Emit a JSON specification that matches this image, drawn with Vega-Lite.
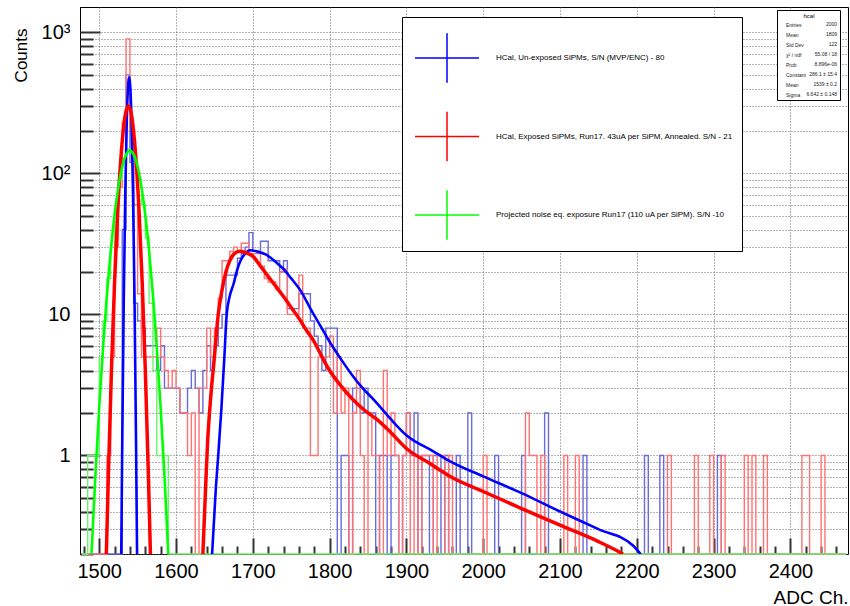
{
  "$schema": "https://vega.github.io/schema/vega-lite/v6.json",
  "width": 768,
  "height": 547,
  "autosize": {"type": "none"},
  "padding": {"left": 80, "top": 7, "right": 2, "bottom": 52},
  "background": "#ffffff",
  "config": {
    "font": "Liberation Sans",
    "view": {"stroke": "#000000", "strokeWidth": 1}
  },
  "resolve": {"axis": {"x": "independent", "y": "independent"}, "scale": {"color": "independent"}},
  "datasets": {
    "hist": [
      {"series":"B","adc":1477.5,"counts":0},{"series":"B","adc":1527.5,"counts":0},{"series":"B","adc":1532.5,"counts":40},{"series":"B","adc":1537.5,"counts":500},{"series":"B","adc":1542.5,"counts":120},{"series":"B","adc":1547.5,"counts":12},{"series":"B","adc":1552.5,"counts":9},{"series":"B","adc":1557.5,"counts":8},{"series":"B","adc":1562.5,"counts":6},{"series":"B","adc":1567.5,"counts":6},{"series":"B","adc":1572.5,"counts":6},{"series":"B","adc":1577.5,"counts":4},{"series":"B","adc":1582.5,"counts":6},{"series":"B","adc":1587.5,"counts":3},{"series":"B","adc":1592.5,"counts":3},{"series":"B","adc":1597.5,"counts":3},{"series":"B","adc":1602.5,"counts":3},{"series":"B","adc":1607.5,"counts":2},{"series":"B","adc":1612.5,"counts":2},{"series":"B","adc":1617.5,"counts":3},{"series":"B","adc":1622.5,"counts":4},{"series":"B","adc":1627.5,"counts":3},{"series":"B","adc":1632.5,"counts":2},{"series":"B","adc":1637.5,"counts":4},{"series":"B","adc":1642.5,"counts":6},{"series":"B","adc":1647.5,"counts":4},{"series":"B","adc":1652.5,"counts":6},{"series":"B","adc":1657.5,"counts":8},{"series":"B","adc":1662.5,"counts":10},{"series":"B","adc":1667.5,"counts":19},{"series":"B","adc":1672.5,"counts":19},{"series":"B","adc":1677.5,"counts":19},{"series":"B","adc":1682.5,"counts":25},{"series":"B","adc":1687.5,"counts":27},{"series":"B","adc":1692.5,"counts":30},{"series":"B","adc":1697.5,"counts":38},{"series":"B","adc":1702.5,"counts":28},{"series":"B","adc":1707.5,"counts":28},{"series":"B","adc":1712.5,"counts":33},{"series":"B","adc":1717.5,"counts":33},{"series":"B","adc":1722.5,"counts":24},{"series":"B","adc":1727.5,"counts":24},{"series":"B","adc":1732.5,"counts":24},{"series":"B","adc":1737.5,"counts":20},{"series":"B","adc":1742.5,"counts":24},{"series":"B","adc":1747.5,"counts":11},{"series":"B","adc":1752.5,"counts":11},{"series":"B","adc":1757.5,"counts":11},{"series":"B","adc":1762.5,"counts":14},{"series":"B","adc":1767.5,"counts":14},{"series":"B","adc":1772.5,"counts":14},{"series":"B","adc":1777.5,"counts":9},{"series":"B","adc":1782.5,"counts":7},{"series":"B","adc":1787.5,"counts":6},{"series":"B","adc":1792.5,"counts":4},{"series":"B","adc":1797.5,"counts":8},{"series":"B","adc":1802.5,"counts":8},{"series":"B","adc":1807.5,"counts":8},{"series":"B","adc":1812.5,"counts":0},{"series":"B","adc":1817.5,"counts":1},{"series":"B","adc":1822.5,"counts":1},{"series":"B","adc":1827.5,"counts":0},{"series":"B","adc":1832.5,"counts":3},{"series":"B","adc":1837.5,"counts":3},{"series":"B","adc":1842.5,"counts":2},{"series":"B","adc":1847.5,"counts":3},{"series":"B","adc":1852.5,"counts":2},{"series":"B","adc":1857.5,"counts":2},{"series":"B","adc":1862.5,"counts":0},{"series":"B","adc":1867.5,"counts":1},{"series":"B","adc":1872.5,"counts":1},{"series":"B","adc":1877.5,"counts":0},{"series":"B","adc":1882.5,"counts":1},{"series":"B","adc":1887.5,"counts":1},{"series":"B","adc":1892.5,"counts":0},{"series":"B","adc":1897.5,"counts":1},{"series":"B","adc":1902.5,"counts":2},{"series":"B","adc":1907.5,"counts":1},{"series":"B","adc":1912.5,"counts":2},{"series":"B","adc":1917.5,"counts":0},{"series":"B","adc":1922.5,"counts":1},{"series":"B","adc":1927.5,"counts":1},{"series":"B","adc":1932.5,"counts":0},{"series":"B","adc":1937.5,"counts":1},{"series":"B","adc":1942.5,"counts":1},{"series":"B","adc":1947.5,"counts":0},{"series":"B","adc":1952.5,"counts":1},{"series":"B","adc":1957.5,"counts":0},{"series":"B","adc":1962.5,"counts":0},{"series":"B","adc":1967.5,"counts":1},{"series":"B","adc":1972.5,"counts":0},{"series":"B","adc":1977.5,"counts":0},{"series":"B","adc":1982.5,"counts":2},{"series":"B","adc":1987.5,"counts":0},{"series":"B","adc":2012.5,"counts":0},{"series":"B","adc":2017.5,"counts":1},{"series":"B","adc":2022.5,"counts":0},{"series":"B","adc":2047.5,"counts":0},{"series":"B","adc":2052.5,"counts":1},{"series":"B","adc":2057.5,"counts":0},{"series":"B","adc":2077.5,"counts":0},{"series":"B","adc":2082.5,"counts":2},{"series":"B","adc":2087.5,"counts":0},{"series":"B","adc":2127.5,"counts":0},{"series":"B","adc":2132.5,"counts":1},{"series":"B","adc":2137.5,"counts":0},{"series":"B","adc":2207.5,"counts":0},{"series":"B","adc":2212.5,"counts":1},{"series":"B","adc":2217.5,"counts":0},{"series":"B","adc":2227.5,"counts":0},{"series":"B","adc":2232.5,"counts":1},{"series":"B","adc":2237.5,"counts":0},{"series":"B","adc":2302.5,"counts":0},{"series":"B","adc":2307.5,"counts":1},{"series":"B","adc":2312.5,"counts":0},{"series":"B","adc":2472.5,"counts":0},
      {"series":"R","adc":1477.5,"counts":0},{"series":"R","adc":1507.5,"counts":0},{"series":"R","adc":1512.5,"counts":1},{"series":"R","adc":1517.5,"counts":5},{"series":"R","adc":1522.5,"counts":30},{"series":"R","adc":1527.5,"counts":80},{"series":"R","adc":1532.5,"counts":230},{"series":"R","adc":1537.5,"counts":900},{"series":"R","adc":1542.5,"counts":200},{"series":"R","adc":1547.5,"counts":60},{"series":"R","adc":1552.5,"counts":14},{"series":"R","adc":1557.5,"counts":5},{"series":"R","adc":1562.5,"counts":5},{"series":"R","adc":1567.5,"counts":5},{"series":"R","adc":1572.5,"counts":5},{"series":"R","adc":1577.5,"counts":8},{"series":"R","adc":1582.5,"counts":5},{"series":"R","adc":1587.5,"counts":4},{"series":"R","adc":1592.5,"counts":3},{"series":"R","adc":1597.5,"counts":4},{"series":"R","adc":1602.5,"counts":3},{"series":"R","adc":1607.5,"counts":2},{"series":"R","adc":1612.5,"counts":2},{"series":"R","adc":1617.5,"counts":1},{"series":"R","adc":1622.5,"counts":2},{"series":"R","adc":1627.5,"counts":0},{"series":"R","adc":1632.5,"counts":3},{"series":"R","adc":1637.5,"counts":3},{"series":"R","adc":1642.5,"counts":8},{"series":"R","adc":1647.5,"counts":5},{"series":"R","adc":1652.5,"counts":8},{"series":"R","adc":1657.5,"counts":13},{"series":"R","adc":1662.5,"counts":24},{"series":"R","adc":1667.5,"counts":24},{"series":"R","adc":1672.5,"counts":28},{"series":"R","adc":1677.5,"counts":30},{"series":"R","adc":1682.5,"counts":28},{"series":"R","adc":1687.5,"counts":32},{"series":"R","adc":1692.5,"counts":32},{"series":"R","adc":1697.5,"counts":27},{"series":"R","adc":1702.5,"counts":27},{"series":"R","adc":1707.5,"counts":27},{"series":"R","adc":1712.5,"counts":22},{"series":"R","adc":1717.5,"counts":18},{"series":"R","adc":1722.5,"counts":17},{"series":"R","adc":1727.5,"counts":17},{"series":"R","adc":1732.5,"counts":15},{"series":"R","adc":1737.5,"counts":20},{"series":"R","adc":1742.5,"counts":21},{"series":"R","adc":1747.5,"counts":10},{"series":"R","adc":1752.5,"counts":10},{"series":"R","adc":1757.5,"counts":10},{"series":"R","adc":1762.5,"counts":19},{"series":"R","adc":1767.5,"counts":8},{"series":"R","adc":1772.5,"counts":8},{"series":"R","adc":1777.5,"counts":1},{"series":"R","adc":1782.5,"counts":1},{"series":"R","adc":1787.5,"counts":5},{"series":"R","adc":1792.5,"counts":5},{"series":"R","adc":1797.5,"counts":5},{"series":"R","adc":1802.5,"counts":7},{"series":"R","adc":1807.5,"counts":2},{"series":"R","adc":1812.5,"counts":5},{"series":"R","adc":1817.5,"counts":2},{"series":"R","adc":1822.5,"counts":3},{"series":"R","adc":1827.5,"counts":0},{"series":"R","adc":1832.5,"counts":2},{"series":"R","adc":1837.5,"counts":4},{"series":"R","adc":1842.5,"counts":1},{"series":"R","adc":1847.5,"counts":0},{"series":"R","adc":1852.5,"counts":2},{"series":"R","adc":1857.5,"counts":1},{"series":"R","adc":1862.5,"counts":1},{"series":"R","adc":1867.5,"counts":0},{"series":"R","adc":1872.5,"counts":4},{"series":"R","adc":1877.5,"counts":1},{"series":"R","adc":1882.5,"counts":2},{"series":"R","adc":1887.5,"counts":1},{"series":"R","adc":1892.5,"counts":0},{"series":"R","adc":1897.5,"counts":1},{"series":"R","adc":1902.5,"counts":2},{"series":"R","adc":1907.5,"counts":0},{"series":"R","adc":1912.5,"counts":1},{"series":"R","adc":1917.5,"counts":0},{"series":"R","adc":1922.5,"counts":1},{"series":"R","adc":1927.5,"counts":1},{"series":"R","adc":1932.5,"counts":1},{"series":"R","adc":1937.5,"counts":0},{"series":"R","adc":1942.5,"counts":1},{"series":"R","adc":1947.5,"counts":1},{"series":"R","adc":1952.5,"counts":0},{"series":"R","adc":1957.5,"counts":1},{"series":"R","adc":1962.5,"counts":0},{"series":"R","adc":1997.5,"counts":0},{"series":"R","adc":2002.5,"counts":1},{"series":"R","adc":2007.5,"counts":0},{"series":"R","adc":2052.5,"counts":0},{"series":"R","adc":2057.5,"counts":2},{"series":"R","adc":2062.5,"counts":1},{"series":"R","adc":2067.5,"counts":1},{"series":"R","adc":2072.5,"counts":0},{"series":"R","adc":2077.5,"counts":1},{"series":"R","adc":2082.5,"counts":0},{"series":"R","adc":2102.5,"counts":0},{"series":"R","adc":2107.5,"counts":1},{"series":"R","adc":2112.5,"counts":0},{"series":"R","adc":2117.5,"counts":0},{"series":"R","adc":2122.5,"counts":1},{"series":"R","adc":2127.5,"counts":0},{"series":"R","adc":2237.5,"counts":0},{"series":"R","adc":2242.5,"counts":1},{"series":"R","adc":2247.5,"counts":0},{"series":"R","adc":2272.5,"counts":0},{"series":"R","adc":2277.5,"counts":1},{"series":"R","adc":2282.5,"counts":0},{"series":"R","adc":2292.5,"counts":0},{"series":"R","adc":2297.5,"counts":1},{"series":"R","adc":2302.5,"counts":0},{"series":"R","adc":2307.5,"counts":0},{"series":"R","adc":2312.5,"counts":1},{"series":"R","adc":2317.5,"counts":0},{"series":"R","adc":2337.5,"counts":0},{"series":"R","adc":2342.5,"counts":1},{"series":"R","adc":2347.5,"counts":0},{"series":"R","adc":2352.5,"counts":1},{"series":"R","adc":2357.5,"counts":0},{"series":"R","adc":2362.5,"counts":0},{"series":"R","adc":2367.5,"counts":1},{"series":"R","adc":2372.5,"counts":0},{"series":"R","adc":2412.5,"counts":0},{"series":"R","adc":2417.5,"counts":1},{"series":"R","adc":2422.5,"counts":1},{"series":"R","adc":2427.5,"counts":0},{"series":"R","adc":2437.5,"counts":0},{"series":"R","adc":2442.5,"counts":1},{"series":"R","adc":2447.5,"counts":0},{"series":"R","adc":2472.5,"counts":0},
      {"series":"G","adc":1477.5,"counts":0},{"series":"G","adc":1482.5,"counts":0},{"series":"G","adc":1487.5,"counts":1},{"series":"G","adc":1492.5,"counts":1},{"series":"G","adc":1497.5,"counts":1},{"series":"G","adc":1502.5,"counts":5},{"series":"G","adc":1507.5,"counts":9},{"series":"G","adc":1512.5,"counts":18},{"series":"G","adc":1517.5,"counts":30},{"series":"G","adc":1522.5,"counts":55},{"series":"G","adc":1527.5,"counts":90},{"series":"G","adc":1532.5,"counts":120},{"series":"G","adc":1537.5,"counts":150},{"series":"G","adc":1542.5,"counts":140},{"series":"G","adc":1547.5,"counts":120},{"series":"G","adc":1552.5,"counts":90},{"series":"G","adc":1557.5,"counts":60},{"series":"G","adc":1562.5,"counts":35},{"series":"G","adc":1567.5,"counts":12},{"series":"G","adc":1572.5,"counts":4},{"series":"G","adc":1577.5,"counts":1},{"series":"G","adc":1582.5,"counts":1},{"series":"G","adc":1587.5,"counts":1},{"series":"G","adc":1592.5,"counts":0},{"series":"G","adc":2472.5,"counts":0}
    ],
    "fit": [
      {"series":"B","part":"peak","adc":1528.7,"counts":0.2},{"series":"B","part":"peak","adc":1530,"counts":1.2},{"series":"B","part":"peak","adc":1532,"counts":12.8},{"series":"B","part":"peak","adc":1534,"counts":75},{"series":"B","part":"peak","adc":1536,"counts":247},{"series":"B","part":"peak","adc":1538,"counts":446},{"series":"B","part":"peak","adc":1539,"counts":480},{"series":"B","part":"peak","adc":1540,"counts":446},{"series":"B","part":"peak","adc":1542,"counts":247},{"series":"B","part":"peak","adc":1544,"counts":75},{"series":"B","part":"peak","adc":1546,"counts":12.8},{"series":"B","part":"peak","adc":1548,"counts":1.2},{"series":"B","part":"peak","adc":1549.3,"counts":0.2},
      {"series":"B","part":"signal","adc":1647,"counts":0.2},{"series":"B","part":"signal","adc":1652,"counts":0.6},{"series":"B","part":"signal","adc":1655,"counts":1.0},{"series":"B","part":"signal","adc":1659,"counts":2.1},{"series":"B","part":"signal","adc":1663,"counts":5},{"series":"B","part":"signal","adc":1666,"counts":10},{"series":"B","part":"signal","adc":1670,"counts":13.5},{"series":"B","part":"signal","adc":1675,"counts":16.5},{"series":"B","part":"signal","adc":1680,"counts":21},{"series":"B","part":"signal","adc":1684,"counts":24},{"series":"B","part":"signal","adc":1690,"counts":27},{"series":"B","part":"signal","adc":1696,"counts":28.5},{"series":"B","part":"signal","adc":1705,"counts":28},{"series":"B","part":"signal","adc":1718,"counts":26.4},{"series":"B","part":"signal","adc":1730,"counts":23.5},{"series":"B","part":"signal","adc":1740,"counts":21},{"series":"B","part":"signal","adc":1750,"counts":18},{"series":"B","part":"signal","adc":1762,"counts":14.8},{"series":"B","part":"signal","adc":1775,"counts":11},{"series":"B","part":"signal","adc":1788,"counts":8.3},{"series":"B","part":"signal","adc":1800,"counts":6.4},{"series":"B","part":"signal","adc":1815,"counts":4.8},{"series":"B","part":"signal","adc":1828,"counts":3.8},{"series":"B","part":"signal","adc":1843,"counts":3.0},{"series":"B","part":"signal","adc":1858,"counts":2.47},{"series":"B","part":"signal","adc":1880,"counts":1.8},{"series":"B","part":"signal","adc":1900,"counts":1.39},{"series":"B","part":"signal","adc":1935,"counts":1.07},{"series":"B","part":"signal","adc":1957,"counts":0.906},{"series":"B","part":"signal","adc":2000,"counts":0.71},{"series":"B","part":"signal","adc":2050,"counts":0.54},{"series":"B","part":"signal","adc":2100,"counts":0.40},{"series":"B","part":"signal","adc":2150,"counts":0.30},{"series":"B","part":"signal","adc":2195,"counts":0.23},{"series":"B","part":"signal","adc":2205,"counts":0.2},
      {"series":"R","part":"peak","adc":1509.3,"counts":0.2},{"series":"R","part":"peak","adc":1512,"counts":0.74},{"series":"R","part":"peak","adc":1516,"counts":4.1},{"series":"R","part":"peak","adc":1520,"counts":16.8},{"series":"R","part":"peak","adc":1524,"counts":52.6},{"series":"R","part":"peak","adc":1528,"counts":123},{"series":"R","part":"peak","adc":1532,"counts":218},{"series":"R","part":"peak","adc":1535,"counts":277},{"series":"R","part":"peak","adc":1538,"counts":300},{"series":"R","part":"peak","adc":1541,"counts":277},{"series":"R","part":"peak","adc":1544,"counts":218},{"series":"R","part":"peak","adc":1548,"counts":123},{"series":"R","part":"peak","adc":1552,"counts":52.6},{"series":"R","part":"peak","adc":1556,"counts":16.8},{"series":"R","part":"peak","adc":1560,"counts":4.1},{"series":"R","part":"peak","adc":1564,"counts":0.74},{"series":"R","part":"peak","adc":1566.7,"counts":0.2},
      {"series":"R","part":"signal","adc":1635,"counts":0.2},{"series":"R","part":"signal","adc":1638,"counts":0.5},{"series":"R","part":"signal","adc":1641,"counts":1.2},{"series":"R","part":"signal","adc":1645,"counts":2.5},{"series":"R","part":"signal","adc":1650,"counts":5},{"series":"R","part":"signal","adc":1655,"counts":10},{"series":"R","part":"signal","adc":1660,"counts":15},{"series":"R","part":"signal","adc":1665,"counts":20},{"series":"R","part":"signal","adc":1670,"counts":24},{"series":"R","part":"signal","adc":1676,"counts":27},{"series":"R","part":"signal","adc":1683,"counts":28},{"series":"R","part":"signal","adc":1690,"counts":27.5},{"series":"R","part":"signal","adc":1700,"counts":25.9},{"series":"R","part":"signal","adc":1710,"counts":22},{"series":"R","part":"signal","adc":1720,"counts":18.6},{"series":"R","part":"signal","adc":1730,"counts":15.8},{"series":"R","part":"signal","adc":1740,"counts":13.4},{"series":"R","part":"signal","adc":1750,"counts":11.2},{"series":"R","part":"signal","adc":1760,"counts":9.4},{"series":"R","part":"signal","adc":1770,"counts":7.7},{"series":"R","part":"signal","adc":1780,"counts":6.4},{"series":"R","part":"signal","adc":1790,"counts":5.0},{"series":"R","part":"signal","adc":1800,"counts":4.0},{"series":"R","part":"signal","adc":1815,"counts":3.1},{"series":"R","part":"signal","adc":1830,"counts":2.5},{"series":"R","part":"signal","adc":1845,"counts":2.1},{"series":"R","part":"signal","adc":1860,"counts":1.83},{"series":"R","part":"signal","adc":1880,"counts":1.45},{"series":"R","part":"signal","adc":1900,"counts":1.12},{"series":"R","part":"signal","adc":1930,"counts":0.88},{"series":"R","part":"signal","adc":1957,"counts":0.71},{"series":"R","part":"signal","adc":2000,"counts":0.555},{"series":"R","part":"signal","adc":2050,"counts":0.42},{"series":"R","part":"signal","adc":2100,"counts":0.32},{"series":"R","part":"signal","adc":2150,"counts":0.245},{"series":"R","part":"signal","adc":2175,"counts":0.21},{"series":"R","part":"signal","adc":2182,"counts":0.2},
      {"series":"G","part":"peak","adc":1490,"counts":0.2},{"series":"G","part":"peak","adc":1495,"counts":0.71},{"series":"G","part":"peak","adc":1500,"counts":2.18},{"series":"G","part":"peak","adc":1505,"counts":5.8},{"series":"G","part":"peak","adc":1510,"counts":13.7},{"series":"G","part":"peak","adc":1515,"counts":28.1},{"series":"G","part":"peak","adc":1520,"counts":50.7},{"series":"G","part":"peak","adc":1525,"counts":80.3},{"series":"G","part":"peak","adc":1530,"counts":111.6},{"series":"G","part":"peak","adc":1535,"counts":135.8},{"series":"G","part":"peak","adc":1540,"counts":145},{"series":"G","part":"peak","adc":1545,"counts":135.8},{"series":"G","part":"peak","adc":1550,"counts":111.6},{"series":"G","part":"peak","adc":1555,"counts":80.3},{"series":"G","part":"peak","adc":1560,"counts":50.7},{"series":"G","part":"peak","adc":1565,"counts":28.1},{"series":"G","part":"peak","adc":1570,"counts":13.7},{"series":"G","part":"peak","adc":1575,"counts":5.8},{"series":"G","part":"peak","adc":1580,"counts":2.18},{"series":"G","part":"peak","adc":1585,"counts":0.71},{"series":"G","part":"peak","adc":1590,"counts":0.2}
    ],
    "stats": [
      {"stat":"Entries","value":"2000"},
      {"stat":"Mean","value":"1809"},
      {"stat":"Std Dev","value":"122"},
      {"stat":"χ² / ndf","value":"55.08 / 18"},
      {"stat":"Prob","value":"8.896e-06"},
      {"stat":"Constant","value":"286.1 ± 15.4"},
      {"stat":"Mean ","value":"1539 ± 0.2"},
      {"stat":"Sigma","value":"6.642 ± 0.148"}
    ]
  },
  "layer": [
    {
      "data": {"name": "hist"},
      "mark": {"type": "line", "interpolate": "step", "strokeWidth": 1.4, "clip": false},
      "encoding": {
        "x": {
          "field": "adc", "type": "quantitative",
          "scale": {"domain": [1475, 2475], "nice": false, "zero": false},
          "axis": {
            "orient": "bottom",
            "values": [1500,1600,1700,1800,1900,2000,2100,2200,2300,2400],
            "format": "d",
            "labelFontSize": 20,
            "labelColor": "#000000",
            "labelPadding": 7,
            "labelBaseline": "top",
            "labelOverlap": false,
            "labelFlush": false,
            "domain": false,
            "ticks": false,
            "tickSize": 0,
            "grid": true,
            "gridDash": [1, 2],
            "gridColor": "#666666",
            "gridWidth": 1,
            "title": "ADC Ch.",
            "titleFontSize": 19,
            "titleFontWeight": "normal",
            "titleColor": "#000000",
            "titleAlign": "right",
            "titleAnchor": "end",
            "titleBaseline": "alphabetic",
            "titleX": 768,
            "titleY": 49
          }
        },
        "y": {
          "field": "counts", "type": "quantitative",
          "scale": {"type": "log", "domain": [0.2, 1514], "nice": false, "clamp": true},
          "axis": {
            "orient": "left",
            "values": [0.2,0.3,0.4,0.5,0.6,0.7,0.8,0.9,1,2,3,4,5,6,7,8,9,10,20,30,40,50,60,70,80,90,100,200,300,400,500,600,700,800,900,1000],
            "labelExpr": "datum.value == 1000 ? '10³' : datum.value == 100 ? '10²' : datum.value == 10 ? '10' : datum.value == 1 ? '1' : ''",
            "labelFontSize": 20,
            "labelColor": "#000000",
            "labelPadding": 10,
            "labelBaseline": "middle",
            "labelOverlap": false,
            "labelFlush": false,
            "domainColor": "#000000",
            "ticks": false,
            "tickSize": 0,
            "grid": true,
            "gridDash": [1, 2],
            "gridColor": "#666666",
            "gridWidth": 1,
            "title": "Counts",
            "titleFontSize": 17,
            "titleFontWeight": "normal",
            "titleColor": "#000000",
            "titleAngle": -90,
            "titleAlign": "right",
            "titleBaseline": "bottom",
            "titleX": -50,
            "titleY": 21
          }
        },
        "color": {
          "field": "series", "type": "nominal",
          "scale": {"domain": ["B", "R", "G"], "range": ["#6a6ad8", "#ff7272", "#6cf26c"]},
          "legend": null
        }
      }
    },
    {
      "data": {"name": "fit"},
      "mark": {"type": "line", "interpolate": "monotone", "clip": true},
      "encoding": {
        "x": {
          "field": "adc", "type": "quantitative",
          "axis": {
            "orient": "top",
            "offset": -547,
            "values": [1480,1500,1520,1540,1560,1580,1600,1620,1640,1660,1680,1700,1720,1740,1760,1780,1800,1820,1840,1860,1880,1900,1920,1940,1960,1980,2000,2020,2040,2060,2080,2100,2120,2140,2160,2180,2200,2220,2240,2260,2280,2300,2320,2340,2360,2380,2400,2420,2440,2460],
            "labels": false,
            "grid": false,
            "domain": false,
            "ticks": true,
            "tickColor": "#333333",
            "tickWidth": 2,
            "tickSize": {"condition": {"test": "datum.value % 100 == 0", "value": 16}, "value": 8},
            "title": null
          }
        },
        "y": {
          "field": "counts", "type": "quantitative",
          "axis": {
            "orient": "right",
            "offset": -768,
            "values": [0.2,0.3,0.4,0.5,0.6,0.7,0.8,0.9,1,2,3,4,5,6,7,8,9,10,20,30,40,50,60,70,80,90,100,200,300,400,500,600,700,800,900,1000],
            "labels": false,
            "grid": false,
            "domain": false,
            "ticks": true,
            "tickColor": "#333333",
            "tickWidth": 2,
            "tickSize": {"condition": {"test": "indexof([1, 10, 100, 1000], datum.value) >= 0", "value": 20}, "value": 13},
            "title": null
          }
        },
        "color": {
          "field": "series", "type": "nominal",
          "scale": {"domain": ["B", "R", "G"], "range": ["#0000ff", "#ff0000", "#00ff00"]},
          "legend": {
            "orient": "none",
            "legendX": 322,
            "legendY": 10,
            "title": null,
            "symbolType": "M-1,0H1M0,-0.77V0.77",
            "symbolSize": 4096,
            "symbolStrokeWidth": 1.5,
            "symbolOffset": 4,
            "labelFontSize": 8,
            "labelColor": "#000000",
            "labelOffset": 16,
            "labelLimit": 500,
            "padding": 8,
            "rowPadding": 17.5,
            "strokeColor": "#000000",
            "fillColor": "#ffffff",
            "labelExpr": "datum.label == 'B' ? 'HCal, Un-exposed SiPMs, S/N (MVP/ENC) - 80' : datum.label == 'R' ? 'HCal, Exposed SiPMs, Run17. 43uA per SiPM, Annealed. S/N - 21' : 'Projected noise eq. exposure Run17 (110 uA per SiPM). S/N -10'"
          }
        },
        "detail": {"field": "part", "type": "nominal"},
        "strokeWidth": {"condition": {"test": "datum.series == 'R'", "value": 3.5}, "value": 2.6}
      }
    },
    {
      "data": {"name": "stats"},
      "mark": {"type": "point", "opacity": 0},
      "encoding": {
        "shape": {
          "field": "value", "type": "nominal", "sort": null,
          "legend": {
            "orient": "none",
            "legendX": 697,
            "legendY": 3,
            "title": "hcal",
            "titleFontSize": 6,
            "titleFontWeight": "normal",
            "titleColor": "#000000",
            "titleAnchor": "middle",
            "titlePadding": 2,
            "symbolSize": 0,
            "symbolOpacity": 0,
            "symbolStrokeWidth": 0,
            "labelAlign": "right",
            "labelOffset": 52,
            "labelFontSize": 5,
            "labelColor": "#222222",
            "padding": 3,
            "rowPadding": 4,
            "strokeColor": "#000000",
            "fillColor": "#ffffff"
          }
        },
        "fill": {
          "field": "stat", "type": "nominal", "sort": null,
          "legend": {
            "orient": "none",
            "legendX": 697,
            "legendY": 12,
            "title": null,
            "symbolSize": 0,
            "symbolOpacity": 0,
            "symbolStrokeWidth": 0,
            "labelOffset": 1,
            "labelFontSize": 5,
            "labelColor": "#222222",
            "padding": 3,
            "rowPadding": 4
          }
        }
      }
    }
  ]
}
